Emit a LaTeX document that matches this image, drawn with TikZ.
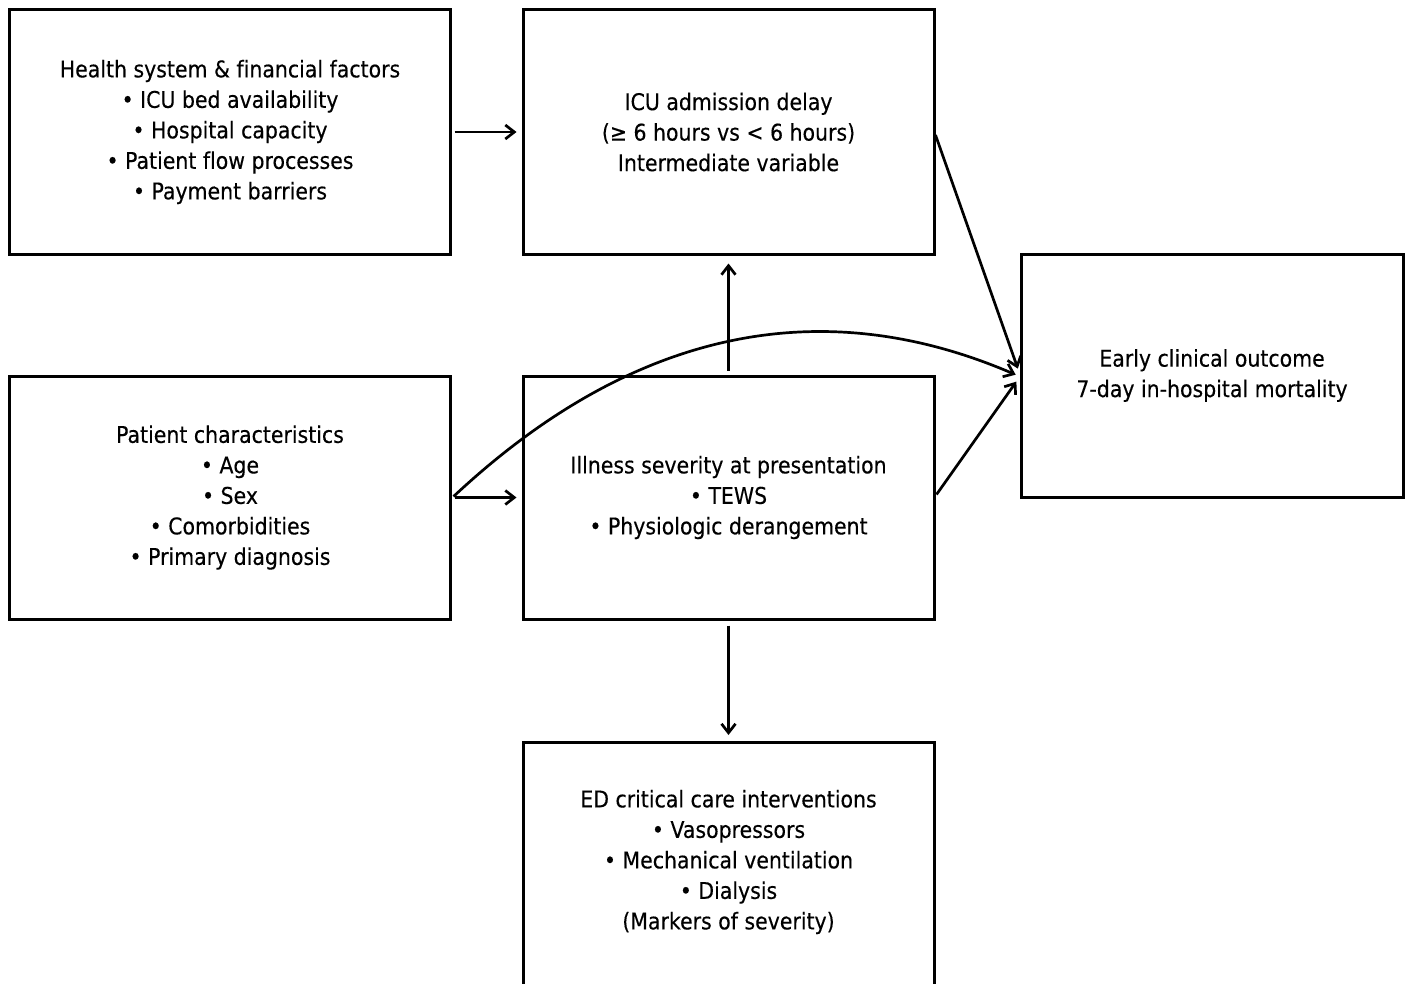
\documentclass[tikz,border=0pt]{standalone}
\usepackage{fontspec}
\setmainfont{DejaVu Sans}[FakeStretch=0.89,Ligatures=NoCommon,FakeBold=0.3]
\usetikzlibrary{arrows.meta}
\begin{document}
\begin{tikzpicture}[x=1bp,y=-1bp,
  box/.style={draw=black,line width=3bp,minimum width=#1,align=center,inner sep=0pt,
    font=\fontsize{23bp}{30.5bp}\selectfont},
  conn/.style={line width=2.7bp,-{Straight Barb[length=9bp,width=14bp,line width=2.7bp]}}]
\useasboundingbox (0,0) rectangle (1408,983);
\node[box=440bp,minimum height=244bp] (hs) at (230,132) {Health system \& financial factors\\• ICU bed availability\\• Hospital capacity\\• Patient flow processes\\• Payment barriers};
\node[box=411bp,minimum height=244bp] (icu) at (728.5,132) {ICU admission delay\\(≥ 6 hours vs < 6 hours)\\Intermediate variable};
\node[box=382bp,minimum height=243bp] (out) at (1212,375.5) {Early clinical outcome\\7-day in-hospital mortality};
\node[box=440bp,minimum height=243bp] (pc) at (230,497.5) {Patient characteristics\\• Age\\• Sex\\• Comorbidities\\• Primary diagnosis};
\node[box=411bp,minimum height=243bp] (ill) at (728.5,497.5) {Illness severity at presentation\\• TEWS\\• Physiologic derangement};
\node[box=411bp,minimum height=250bp,anchor=north] (ed) at (728.5,741) {};
\node[font=\fontsize{23bp}{30.5bp}\selectfont,align=center,inner sep=0pt] (edt) at (728.5,862) {ED critical care interventions\\• Vasopressors\\• Mechanical ventilation\\• Dialysis\\(Markers of severity)};
\draw[conn,shorten <=3bp,shorten >=5bp] (hs.east) -- (icu.west);
\draw[conn,shorten <=3bp,shorten >=5bp] (pc.east) -- (ill.west);
\draw[conn,shorten <=4bp,shorten >=8bp] (ill.north) -- (icu.south);
\draw[conn,shorten <=5bp,shorten >=6bp] (ill.south) -- (ed.north);
\draw[conn,shorten >=2bp] ([yshift=-3bp]icu.east) -- ([xshift=-1bp,yshift=5bp]out.west);
\draw[conn,shorten >=2bp] ([xshift=1bp,yshift=3bp]ill.east) -- ([xshift=-2bp,yshift=-4.5bp]out.west);
\draw[conn,shorten >=2bp] ([xshift=2bp,yshift=1bp]pc.east) .. controls (630.7,330.7) and (819.3,290.3) .. ([xshift=-2bp]out.west);
\end{tikzpicture}
\end{document}
